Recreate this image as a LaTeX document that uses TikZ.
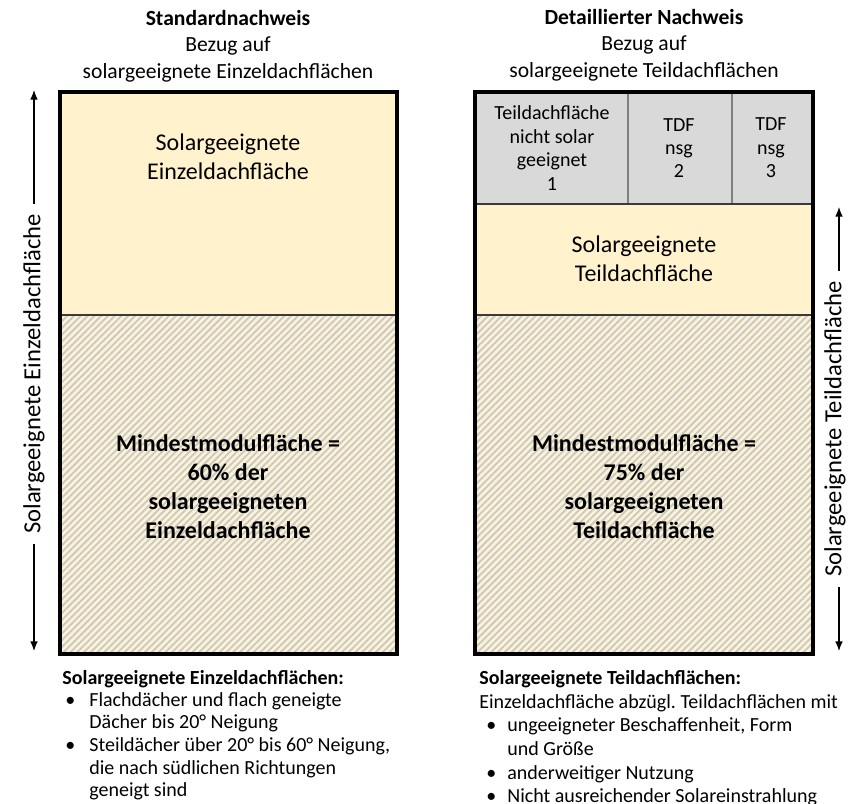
\documentclass[tikz,border=0pt]{standalone}
\usepackage{fontspec}
\setmainfont{Carlito}
\usetikzlibrary{patterns.meta, arrows.meta}
\definecolor{SolarYellow}{HTML}{FFF2CC}
\definecolor{TileGrey}{HTML}{D9D9D9}
\definecolor{HatchGrey}{HTML}{C4C8D0}
\definecolor{SplitGrey}{HTML}{7F7F7F}
\definecolor{SplitDark}{HTML}{3A3A3A}
\tikzstyle{heading}=[align=center,
                     font=\fontsize{10.8}{13.3}\selectfont,
                     inner sep=0pt, ]
\tikzstyle{area_text}=[align=center,
                       font=\fontsize{12}{14.5}\selectfont,
                       inner sep=0pt, ]
\tikzstyle{area_bold}=[area_text,
                       font=\fontsize{12}{14.5}\selectfont\bfseries, ]
\tikzstyle{tile_text}=[align=center,
                       font=\fontsize{10}{11.7}\selectfont,
                       inner sep=0pt, ]
\tikzstyle{span_label}=[rotate=90,
                        font=\fontsize{12.3}{14}\selectfont,
                        inner sep=5pt, ]
\tikzstyle{list_line}=[anchor=base west,
                       font=\fontsize{10}{11.4}\selectfont,
                       inner sep=0pt, ]
\tikzstyle{span_arrow}=[-{Latex[length=4.8pt,width=3.8pt]}, line width=0.6pt]
\tikzstyle{hatched}=[pattern={Lines[angle=45, distance=2.4pt, line width=0.9pt]},
                     pattern color=HatchGrey]

\begin{document}
\begin{tikzpicture}[x=0.5pt, y=-0.5pt]
    \useasboundingbox (0,0) rectangle (848,804);

    % headings
    \node at (228, 46) (std_head) [heading] {\textbf{Standardnachweis}\\Bezug auf\\solargeeignete Einzeldachflächen};
    \node at (644, 45) (det_head) [heading] {\textbf{Detaillierter Nachweis}\\Bezug auf\\solargeeignete Teildachflächen};

    % left box: standard
    \fill[SolarYellow] (60, 92) rectangle (397, 654);
    \fill[hatched] (60, 315) rectangle (397, 654);
    \draw[line width=1.3pt, SplitDark] (60, 315) -- (397, 315);
    \draw[line width=2pt] (60, 92) rectangle (397, 654);

    % right box: detailed
    \fill[TileGrey] (475, 92) rectangle (813, 204);
    \fill[SolarYellow] (475, 204) rectangle (813, 654);
    \fill[hatched] (475, 315) rectangle (813, 654);
    \foreach \x in {628, 732} {
      \draw[line width=1pt, SplitGrey] (\x, 92) -- (\x, 204);
    }
    \draw[line width=1.3pt, SplitDark] (475, 204) -- (813, 204);
    \draw[line width=1.3pt, SplitDark] (475, 315) -- (813, 315);
    \draw[line width=2pt] (475, 92) rectangle (813, 654);

    % area texts
    \node at (228, 157) (std_solar) [area_text] {Solargeeignete\\Einzeldachfläche};
    \node at (228, 487) (std_min) [area_bold] {Mindestmodulfläche =\\60\% der\\solargeeigneten\\Einzeldachfläche};
    \node at (644, 259) (det_solar) [area_text] {Solargeeignete\\Teildachfläche};
    \node at (644, 487) (det_min) [area_bold] {Mindestmodulfläche =\\75\% der\\solargeeigneten\\Teildachfläche};

    \node at (552, 148) (tile_1) [tile_text] {Teildachfläche\\nicht solar\\geeignet\\1};
    \foreach \i/\x in {2/679, 3/771} {
      \node at (\x, 148) (tile_\i) [tile_text] {TDF\\nsg\\\i};
    }

    % span arrows
    \coordinate (std_top) at (34, 90);
    \coordinate (std_bottom) at (34, 651);
    \node at (34, 374) (std_span) [span_label] {Solargeeignete Einzeldachfläche};
    \draw[span_arrow] (std_span.east) -- (std_top);
    \draw[span_arrow] (std_span.west) -- (std_bottom);

    \coordinate (det_top) at (839, 207);
    \coordinate (det_bottom) at (839, 651);
    \node at (835, 429) (det_span) [span_label] {Solargeeignete Teildachfläche};
    \draw[span_arrow] (det_span.east -| det_top) -- (det_top);
    \draw[span_arrow] (det_span.west -| det_bottom) -- (det_bottom);

    % lists below
    \node at (62, 684) (std_caption) [list_line] {\textbf{Solargeeignete Einzeldachflächen:}};
    \foreach \i/\y/\t in {1/706/{Flachdächer und flach geneigte},
                          2/728/{Dächer bis 20° Neigung},
                          3/751/{Steildächer über 20° bis 60° Neigung,},
                          4/774/{die nach südlichen Richtungen},
                          5/796/{geneigt sind}} {
      \node at (89, \y) (std_item_\i) [list_line] {\t};
    }
    \foreach \i/\y in {1/706, 3/751} {
      \node at (65, \y) (std_dot_\i) [list_line] {•};
    }

    \node at (479, 684) (det_caption) [list_line] {\textbf{Solargeeignete Teildachflächen:}};
    \node at (479, 708) (det_intro) [list_line] {Einzeldachfläche abzügl.\ Teildachflächen mit};
    \foreach \i/\y/\t in {1/731/{ungeeigneter Beschaffenheit, Form},
                          2/755/{und Größe},
                          3/779/{anderweitiger Nutzung},
                          4/802/{Nicht ausreichender Solareinstrahlung}} {
      \node at (507, \y) (det_item_\i) [list_line] {\t};
    }
    \foreach \i/\y in {1/731, 3/779, 4/802} {
      \node at (486, \y) (det_dot_\i) [list_line] {•};
    }
\end{tikzpicture}
\end{document}
